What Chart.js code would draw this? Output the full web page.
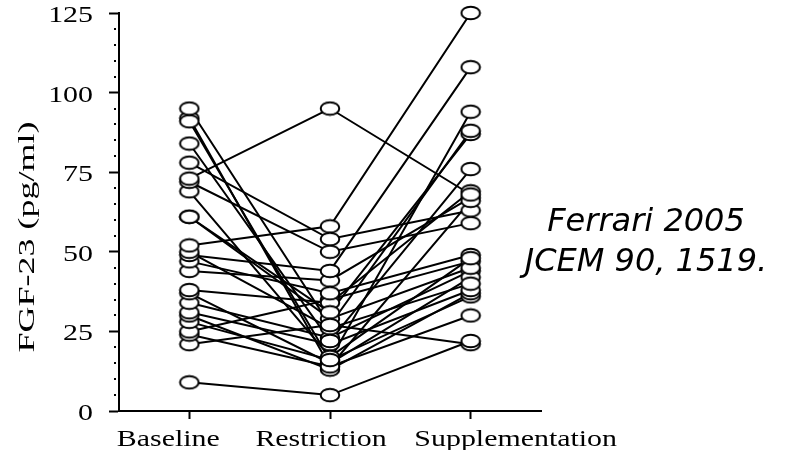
<!DOCTYPE html>
<html>
<head>
<meta charset="utf-8">
<script src="https://cdn.jsdelivr.net/npm/chart.js@4.4.1/dist/chart.umd.min.js"></script>
<style>
  html, body { margin: 0; padding: 0; background: #fff; }
</style>
</head>
<body>
<canvas id="chart" width="785" height="450"></canvas>
<script>
// periods on the x axis
const periods = ['Baseline', 'Restriction', 'Supplementation'];

// one entry per subject, FGF-23 in pg/ml
const baseline =        [73,  9, 95, 91, 92, 84, 78, 72, 69, 61, 61, 52, 50, 49, 47, 44, 38, 37, 34, 31, 30, 28, 25, 24, 21];
const restriction =     [95,  5, 27, 16, 14, 22, 54, 50, 17, 31, 29, 58, 26, 44, 37, 41, 34, 15, 23, 21, 13, 16, 35, 14, 27];
const supplementation = [68, 22, 88, 94, 66, 76, 63, 59, 48, 87, 45, 125, 40, 108, 49, 67, 69, 42, 44, 38, 37, 36, 47, 30, 21];

const yTicks = [0, 25, 50, 75, 100, 125];
const note = ['Ferrari 2005', 'JCEM 90, 1519.'];

const SERIF = '"Liberation Serif", "Times New Roman", Times, serif';

// open ellipse marker (the source picture is stretched sideways)
const marker = document.createElement('canvas');
marker.width = 22;
marker.height = 16;
const mctx = marker.getContext('2d');
mctx.beginPath();
mctx.ellipse(11, 8, 9.3, 6.3, 0, 0, Math.PI * 2);
mctx.fillStyle = '#fff';
mctx.fill();
mctx.lineWidth = 2;
mctx.strokeStyle = '#000';
mctx.stroke();

const lineSets = baseline.map((b, i) => ({
  data: [b, restriction[i], supplementation[i]],
  borderColor: '#000',
  borderWidth: 2,
  pointRadius: 0,
  tension: 0,
  order: 1
}));
const pointSets = baseline.map((b, i) => ({
  data: [b, restriction[i], supplementation[i]],
  showLine: false,
  pointStyle: marker,
  pointRadius: 9,
  clip: false,
  order: 0
}));

function stretchText(ctx, text, px, py, sx) {
  ctx.save();
  ctx.translate(px, py);
  ctx.scale(sx, 1);
  ctx.fillText(text, 0, 0);
  ctx.restore();
}

const labelShift = [-21, -9, 45];

const decor = {
  id: 'decor',
  afterDraw(chart) {
    const { ctx, scales: { x, y } } = chart;
    ctx.save();
    ctx.fillStyle = '#000';

    // minor dots on the y axis
    for (let v = 5; v < 125; v += 5) {
      if (v % 25 === 0) continue;
      ctx.fillRect(x.left - 5, Math.round(y.getPixelForValue(v)) - 1, 2, 2);
    }

    // y tick labels
    ctx.font = '23px ' + SERIF;
    ctx.textAlign = 'right';
    ctx.textBaseline = 'middle';
    yTicks.forEach(v => stretchText(ctx, String(v), 93, y.getPixelForValue(v) + 3, 1.3));

    // x category labels
    ctx.textAlign = 'center';
    ctx.textBaseline = 'alphabetic';
    periods.forEach((p, i) => stretchText(ctx, p, x.getPixelForValue(i) + labelShift[i], 446, 1.3));

    // y title
    ctx.save();
    ctx.translate(28, 237);
    ctx.rotate(-Math.PI / 2);
    ctx.scale(1.5, 1);
    ctx.font = '24px ' + SERIF;
    ctx.textAlign = 'center';
    ctx.textBaseline = 'middle';
    ctx.fillText('FGF-23 (pg/ml)', 0, 0);
    ctx.restore();

    // citation on the right
    ctx.font = 'italic 32px "DejaVu Sans", Verdana, sans-serif';
    ctx.textAlign = 'center';
    ctx.fillText(note[0], 646, 231);
    ctx.fillText(note[1], 646, 271);
    ctx.restore();
  }
};

new Chart(document.getElementById('chart'), {
  type: 'line',
  data: { labels: periods, datasets: [...lineSets, ...pointSets] },
  options: {
    responsive: false,
    animation: false,
    devicePixelRatio: 1,
    layout: { padding: { top: 13, right: 244, left: 0, bottom: 0 } },
    plugins: { legend: { display: false }, tooltip: { enabled: false } },
    scales: {
      x: {
        type: 'category',
        offset: true,
        grid: { drawOnChartArea: false, offset: false, drawTicks: true, tickLength: 8, tickColor: '#000', tickWidth: 2 },
        border: { display: true, color: '#000', width: 2 },
        ticks: { display: false },
        afterFit: s => { s.height = 39; }
      },
      y: {
        min: 0,
        max: 125,
        ticks: { display: false, stepSize: 25 },
        grid: { drawOnChartArea: false, drawTicks: true, tickLength: 10, tickColor: '#000', tickWidth: 2 },
        border: { display: true, color: '#000', width: 2 },
        afterFit: s => { s.width = 119; }
      }
    }
  },
  plugins: [decor]
});
</script>
</body>
</html>
